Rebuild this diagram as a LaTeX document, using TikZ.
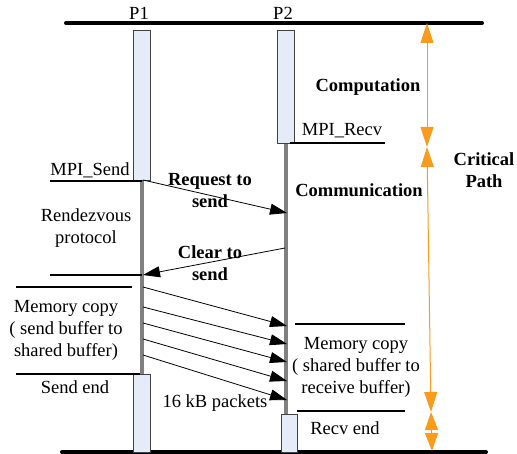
\documentclass[tikz,border=0pt]{standalone}
\usepackage{fontspec}
\setmainfont{Liberation Serif}
\usetikzlibrary{arrows.meta}
\definecolor{boxfill}{HTML}{E6ECF7}
\definecolor{lifegray}{HTML}{808080}
\definecolor{critorange}{HTML}{F99B1C}
\begin{document}
\begin{tikzpicture}[x=1pt,y=-1pt,
  lbl/.style={font=\fontsize{18.5}{22}\selectfont, inner sep=0pt, align=center},
  blbl/.style={font=\fontsize{18.5}{22}\selectfont\bfseries, inner sep=0pt, align=center},
  actbox/.style={draw=black!75, fill=boxfill, line width=0.8pt, inner sep=0pt, minimum width=17pt, anchor=north west},
  lifeline/.style={draw=lifegray, line width=4pt},
  msg/.style={-{Triangle[length=17pt,width=11pt]}, line width=0.8pt},
  tickline/.style={line width=1.2pt},
  frameline/.style={line width=4pt, line cap=round},
  critarrow/.style={draw=critorange, line width=1pt, {Triangle[length=20pt,width=13pt]}-{Triangle[length=20pt,width=13pt]}},
  critshort/.style={draw=critorange, line width=1pt, {Triangle[length=18pt,width=13pt]}-{Triangle[length=18pt,width=13pt]}}
]
\useasboundingbox (0,0) rectangle (517,454);

% frame lines
\coordinate (topL) at (66,23);
\coordinate (topR) at (482,23);
\coordinate (botL) at (62,452);
\coordinate (botR) at (486,452);
\draw[frameline] (topL) -- (topR);
\draw[frameline] (botL) -- (botR);

% process labels
\node[lbl] (p1) at (139,13) {P1};
\node[lbl] (p2) at (283,13) {P2};

% activation boxes
\node[actbox, minimum height=150pt] (p1a) at (133,30) {};
\node[actbox, minimum height=113pt] (p2a) at (277,30) {};
\node[actbox, minimum height=78pt] (p1b) at (133,374) {};
\node[actbox, minimum width=16pt, minimum height=38pt] (p2b) at (281,414) {};

% lifelines
\draw[lifeline] (p1a.south) -- (p1b.north);
\draw[lifeline] (p2a.south) -- (p2a.south |- p2b.north);

% tick lines
\coordinate (recvL) at (290,143);
\coordinate (recvR) at (385,143);
\draw[tickline] (recvL) -- (recvR);
\node[lbl] (mpirecv) at (342,131) {MPI\_Recv};

\coordinate (sendL) at (50,181);
\coordinate (sendR) at (142,181);
\draw[tickline] (sendL) -- (sendR);
\node[lbl] (mpisend) at (90,170) {MPI\_Send};

\coordinate (ctsL) at (50,275);
\coordinate (ctsR) at (142,275);
\draw[tickline] (ctsL) -- (ctsR);

\coordinate (mcL) at (16,287);
\coordinate (mcR) at (132,287);
\draw[tickline] (mcL) -- (mcR);

\coordinate (seL) at (16,374);
\coordinate (seR) at (140,374);
\draw[tickline] (seL) -- (seR);

\coordinate (rmL) at (295,324);
\coordinate (rmR) at (405,324);
\draw[tickline] (rmL) -- (rmR);

\coordinate (reL) at (297,411);
\coordinate (reR) at (405,411);
\draw[tickline] (reL) -- (reR);

% messages
\coordinate (rtsA) at (143,180);
\coordinate (rtsB) at (287,213);
\draw[msg] (rtsA) -- (rtsB);
\coordinate (ctsA) at (285,248);
\coordinate (ctsB) at (143,275);
\draw[msg] (ctsA) -- (ctsB);

\coordinate (k1a) at (143,287); \coordinate (k1b) at (287,326);
\coordinate (k2a) at (143,307); \coordinate (k2b) at (287,344);
\coordinate (k3a) at (143,323); \coordinate (k3b) at (287,362);
\coordinate (k4a) at (143,339); \coordinate (k4b) at (287,381);
\coordinate (k5a) at (143,355); \coordinate (k5b) at (287,400);
\foreach \i in {1,...,5} \draw[msg] (k\i a) -- (k\i b);

% texts
\node[blbl] (reqlbl) at (210,190.5) {Request to\\send};
\node[blbl] (ctslbl) at (210,263) {Clear to\\send};
\node[blbl] (comp) at (368,87) {Computation};
\node[blbl] (comm) at (359,190) {Communication};
\node[blbl] (critlbl) at (484,170) {Critical\\Path};
\node[lbl] (rdv) at (86,228.5) {Rendezvous\\protocol};
\node[lbl] (mcleft) at (66,330) {Memory copy\\( send buffer to\\shared buffer)};
\node[lbl] (sendend) at (75,387) {Send end};
\node[lbl] (pkts) at (215,403) {16 kB packets};
\node[lbl] (mcright) at (356,367) {Memory copy\\( shared buffer to\\receive buffer)};
\node[lbl] (recvend) at (345,428) {Recv end};

% critical path arrows
\coordinate (c0) at (427,23);
\coordinate (c1) at (427,147);
\coordinate (c2) at (431,412);
\coordinate (c3) at (432,451);
\draw[critarrow] (c0) -- (c1);
\draw[critarrow] (c1) -- (c2);
\draw[critshort] (c2) -- (c3);
\end{tikzpicture}
\end{document}
